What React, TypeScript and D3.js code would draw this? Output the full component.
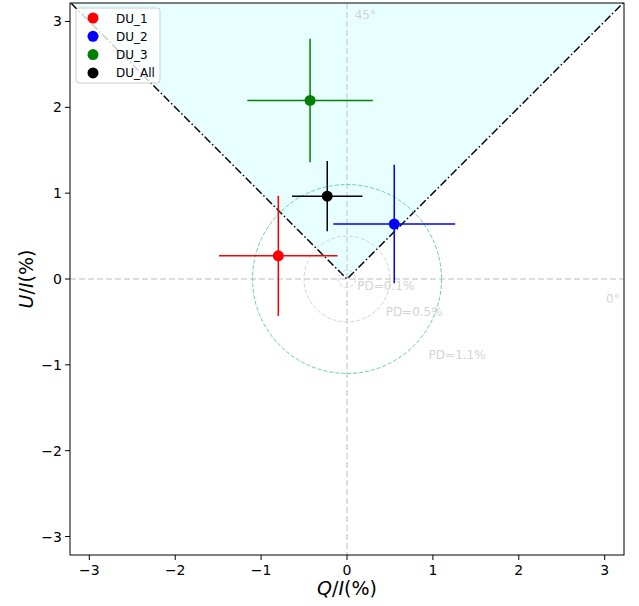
import React from "react";
import * as d3 from "d3";

const W = 639, H = 606;
const seriesNames = ["DU_1", "DU_2", "DU_3", "DU_All"];
const seriesColors = ["red", "blue", "green", "black"];
const qValues = [-0.80, 0.55, -0.43, -0.23];
const uValues = [0.27, 0.64, 2.08, 0.965];
const qErrors = [0.69, 0.71, 0.73, 0.41];
const uErrors = [0.70, 0.69, 0.72, 0.41];
const tickValues = [-3, -2, -1, 0, 1, 2, 3];
const pdRadii = [0.1, 0.5, 1.1];
const pdLabels = ["PD=0.1%", "PD=0.5%", "PD=1.1%"];
const pdLabelPos = [[0.12, -0.13], [0.45, -0.43], [0.95, -0.93]];
const lim = 3.225;

export default function App() {
  const left = 70, right = 624, top = 3, bottom = 555;
  const x = d3.scaleLinear().domain([-lim, lim]).range([left, right]);
  const y = d3.scaleLinear().domain([-3.215, 3.215]).range([bottom, top]);
  const fmt = (v: number) => (v < 0 ? "\u2212" + Math.abs(v) : String(v));
  const ext = 5;
  const wedge = d3.line<[number, number]>().x(d => x(d[0])).y(d => y(d[1]));
  const wedgePts: [number, number][] = [[-ext, ext], [0, 0], [ext, ext]];
  const pxPerUnit = x(1) - x(0);
  return (
    <svg width={W} height={H} style={{ position: "absolute", left: 0, top: 0, fontFamily: "DejaVu Sans" }}>
      <defs>
        <clipPath id="plot"><rect x={left} y={top} width={right - left} height={bottom - top} /></clipPath>
      </defs>
      <rect x={0} y={0} width={W} height={H} fill="white" />
      <g clipPath="url(#plot)">
        <path d={wedge(wedgePts) + "Z"} fill="#e0ffff" fillOpacity={0.75} />
        <line x1={x(0)} x2={x(0)} y1={top} y2={bottom} stroke="#d3d3d3" strokeWidth={1.5} strokeDasharray="6,3" />
        <line x1={left} x2={right} y1={y(0)} y2={y(0)} stroke="#d3d3d3" strokeWidth={1.5} strokeDasharray="6,3" />
        <path d={wedge(wedgePts) || ""} fill="none" stroke="black" strokeWidth={1.5} strokeDasharray="8,2.5,1.5,2.5" />
        {pdRadii.map((r, i) => (
          <circle key={i} cx={x(0)} cy={y(0)} r={r * pxPerUnit} fill="none"
            stroke={i === 2 ? "#66cdaa" : "#d3d3d3"} strokeWidth={1} strokeDasharray="4,2" />
        ))}
        {pdLabels.map((t, i) => (
          <text key={t} x={x(pdLabelPos[i][0])} y={y(pdLabelPos[i][1])} fontSize={12} fill="#d3d3d3">{t}</text>
        ))}
        <text x={x(0.09)} y={19} fontSize={12} fill="#d3d3d3">45°</text>
        <text x={606} y={303} fontSize={12} fill="#d3d3d3">0°</text>
        {seriesNames.map((n, i) => (
          <g key={n} stroke={seriesColors[i]} strokeWidth={1.5}>
            <line x1={x(qValues[i] - qErrors[i])} x2={x(qValues[i] + qErrors[i])} y1={y(uValues[i])} y2={y(uValues[i])} />
            <line x1={x(qValues[i])} x2={x(qValues[i])} y1={y(uValues[i] - uErrors[i])} y2={y(uValues[i] + uErrors[i])} />
            <circle cx={x(qValues[i])} cy={y(uValues[i])} r={5.5} fill={seriesColors[i]} stroke="none" />
          </g>
        ))}
      </g>
      <rect x={left} y={top} width={right - left} height={bottom - top} fill="none" stroke="black" strokeWidth={1} />
      {tickValues.map(t => (
        <g key={"x" + t}>
          <line x1={x(t)} x2={x(t)} y1={bottom} y2={bottom + 5} stroke="black" />
          <text x={x(t)} y={bottom + 20} fontSize={14} textAnchor="middle">{fmt(t)}</text>
        </g>
      ))}
      {tickValues.map(t => (
        <g key={"y" + t}>
          <line x1={left - 5} x2={left} y1={y(t)} y2={y(t)} stroke="black" />
          <text x={left - 8} y={y(t) + 5} fontSize={14} textAnchor="end">{fmt(t)}</text>
        </g>
      ))}
      <text x={(left + right) / 2} y={595} fontSize={19} textAnchor="middle">
        <tspan fontStyle="italic">Q</tspan>/<tspan fontStyle="italic">I</tspan>(%)
      </text>
      <text transform={`translate(33,${y(0)}) rotate(-90)`} fontSize={19} textAnchor="middle">
        <tspan fontStyle="italic">U</tspan>/<tspan fontStyle="italic">I</tspan>(%)
      </text>
      <g transform="translate(76,8)">
        <rect x={0} y={0} width={84} height={75} rx={3} fill="white" fillOpacity={0.8} stroke="#cccccc" />
        {seriesNames.map((n, i) => (
          <g key={n} transform={`translate(0,${10 + i * 18.3})`}>
            <circle cx={17} cy={0} r={5.5} fill={seriesColors[i]} />
            <text x={40} y={4.5} fontSize={12}>{n}</text>
          </g>
        ))}
      </g>
    </svg>
  );
}
